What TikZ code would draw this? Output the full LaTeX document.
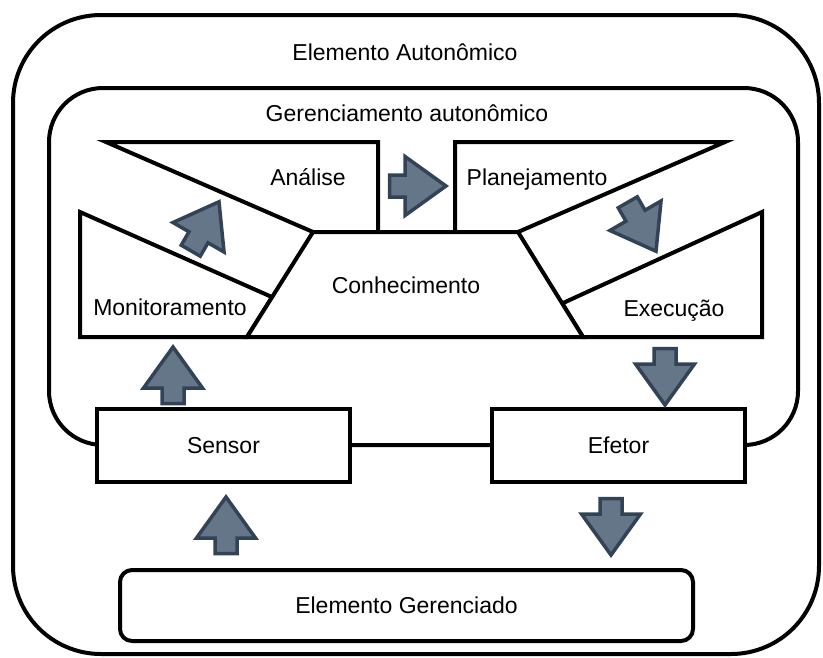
\documentclass[tikz,border=0pt]{standalone}
\usepackage{fontspec}
\setmainfont{Liberation Sans}
\usetikzlibrary{calc}
\definecolor{afill}{HTML}{647687}
\definecolor{aline}{HTML}{314354}
\begin{document}
\begin{tikzpicture}[x=1pt,y=1pt,
  frame/.style={draw=black, line width=4pt},
  part/.style={draw=black, line width=4pt, fill=white, line join=miter},
  lbl/.style={font=\fontsize{23pt}{27pt}\selectfont, anchor=base, inner sep=0pt},
  box/.style={draw=black, line width=4pt, fill=white, font=\fontsize{23pt}{27pt}\selectfont, inner sep=0pt},
  barrow/.pic={\draw[fill=afill, draw=aline, line width=3.5pt, line join=miter]
     (1.5,-11) -- (17,-11) -- (17,-29.5) -- (58,0) -- (17,29.5) -- (17,11) -- (1.5,11) -- cycle;}
]
\useasboundingbox (0,0) rectangle (823,-657);
% outer and inner frames
\draw[frame, rounded corners=88pt] (13,-15) rectangle (819,-654);
\draw[frame, rounded corners=54pt] (49,-88) rectangle (798,-445);
% knowledge trapezoid corners
\coordinate (K1) at (313,-232);
\coordinate (K2) at (518,-232);
\coordinate (K3) at (583,-337);
\coordinate (K4) at (247,-337);
% MAPE parts
\draw[part] (106,-142) -- (378,-142) -- (378,-232) -- (K1) -- cycle;
\draw[part] (80,-212) -- ($(K1)!0.62!(K4)$) -- (K4) -- (80,-337) -- cycle;
\draw[part] (455,-142) -- (725,-142) -- (K2) -- (455,-232) -- cycle;
\draw[part] (762,-212) -- (762,-337) -- (K3) -- ($(K2)!0.68!(K3)$) -- cycle;
\draw[part] (K1) -- (K2) -- (K3) -- (K4) -- cycle;
% boxes
\node[box, minimum width=253pt, minimum height=73pt] (sensor) at (223.5,-445.5) {Sensor};
\node[box, minimum width=253pt, minimum height=73pt] (efetor) at (618.5,-445.5) {Efetor};
\node[box, rounded corners=12pt, minimum width=573pt, minimum height=71pt] (eg) at (406.5,-605.5) {Elemento Gerenciado};
% labels
\node[lbl] (ea) at (405,-60) {Elemento Autonômico};
\node[lbl] (ga) at (407,-121) {Gerenciamento autonômico};
\node[lbl] (analise) at (308,-185) {Análise};
\node[lbl] (planej) at (537,-185) {Planejamento};
\node[lbl] (monit) at (170,-315) {Monitoramento};
\node[lbl] (exec) at (674,-316) {Execução};
\node[lbl] (conhec) at (406,-293) {Conhecimento};
% block arrows
\pic[rotate=90] at (173,-405) {barrow};
\pic[rotate=-90] at (665,-347) {barrow};
\pic[rotate=90] at (226,-555) {barrow};
\pic[rotate=-90] at (611,-497) {barrow};
\pic at (388,-186) {barrow};
\pic[rotate=60] at (190,-252) {barrow};
\pic[rotate=-60] at (627,-201) {barrow};
\end{tikzpicture}
\end{document}
